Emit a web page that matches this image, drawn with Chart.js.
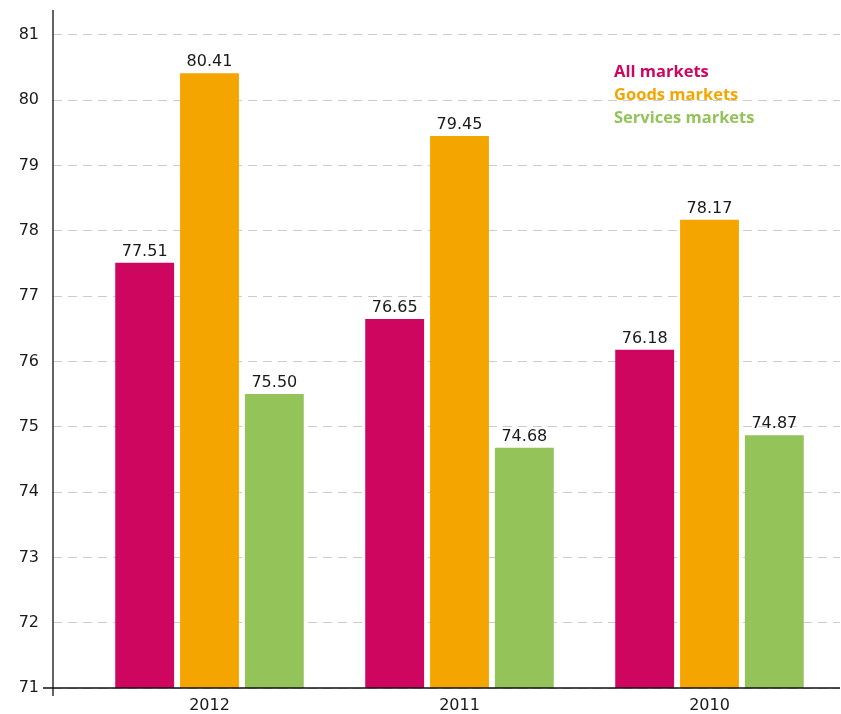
<!DOCTYPE html>
<html>
<head>
<meta charset="utf-8">
<script src="https://cdn.jsdelivr.net/npm/chart.js@4/dist/chart.umd.min.js"></script>
<style>
  html, body { margin: 0; padding: 0; background: #fff; }
  #wrap { width: 841px; height: 714px; }
</style>
</head>
<body>
<div id="wrap"><canvas id="myChart"></canvas></div>
<script>
// data
const years = ['2012', '2011', '2010'];
const allMarkets = [77.51, 76.65, 76.18];
const goodsMarkets = [80.41, 79.45, 78.17];
const servicesMarkets = [75.50, 74.68, 74.87];
const seriesNames = ['All markets', 'Goods markets', 'Services markets'];
const seriesColors = ['#ce0660', '#f5a500', '#93c359'];

function toPoints(values) {
    return values.map((v, i) => ({ x: i, y: v }));
}

// numbers above each bar
const valueLabels = {
    id: 'valueLabels',
    afterDatasetsDraw(chart) {
        const ctx = chart.ctx;
        ctx.save();
        ctx.font = '16px "DejaVu Sans"';
        ctx.fillStyle = '#1a1a1a';
        ctx.textAlign = 'center';
        ctx.textBaseline = 'alphabetic';
        chart.data.datasets.forEach((ds, di) => {
            chart.getDatasetMeta(di).data.forEach((bar, i) => {
                ctx.fillText(ds.data[i].y.toFixed(2), bar.x, bar.y - 7);
            });
        });
        ctx.restore();
    }
};

// axis lines running a bit past the corner, and the coloured text legend
const axesAndLegend = {
    id: 'axesAndLegend',
    afterDraw(chart) {
        const ctx = chart.ctx;
        const area = chart.chartArea;
        const y0 = chart.scales.y.getPixelForValue(71);
        ctx.save();
        ctx.strokeStyle = '#111';
        ctx.lineWidth = 1.3;
        ctx.beginPath();
        ctx.moveTo(area.left, area.top);
        ctx.lineTo(area.left, y0 + 8);
        ctx.moveTo(area.left - 10, y0);
        ctx.lineTo(area.right, y0);
        ctx.stroke();

        ctx.font = 'bold 16.5px "Open Sans"';
        ctx.textAlign = 'left';
        ctx.textBaseline = 'middle';
        seriesNames.forEach((name, i) => {
            ctx.fillStyle = seriesColors[i];
            ctx.fillText(name, 614, 72 + i * 23);
        });
        ctx.restore();
    }
};

const ctx = document.getElementById('myChart');

new Chart(ctx, {
    type: 'bar',
    data: {
        datasets: [
            { label: seriesNames[0], data: toPoints(allMarkets), backgroundColor: seriesColors[0] },
            { label: seriesNames[1], data: toPoints(goodsMarkets), backgroundColor: seriesColors[1] },
            { label: seriesNames[2], data: toPoints(servicesMarkets), backgroundColor: seriesColors[2] }
        ]
    },
    options: {
        responsive: true,
        maintainAspectRatio: false,
        animation: false,
        datasets: {
            bar: { categoryPercentage: 0.778, barPercentage: 0.908 }
        },
        layout: { padding: { top: 10, right: 1, left: 0, bottom: 0 } },
        plugins: {
            legend: { display: false },
            tooltip: { enabled: false }
        },
        scales: {
            x: {
                type: 'linear',
                offset: false,
                min: -0.626,
                max: 2.522,
                afterFit: s => {
                    s.height = 26;
                    s.paddingLeft = 0;
                    s.paddingRight = 0;
                },
                grid: { display: false, drawTicks: false, offset: false },
                border: { display: false },
                ticks: {
                    stepSize: 1,
                    includeBounds: false,
                    padding: 8,
                    color: '#1a1a1a',
                    font: { family: 'DejaVu Sans', size: 16 },
                    callback: v => (Number.isInteger(v) && years[v] !== undefined) ? years[v] : ''
                }
            },
            y: {
                min: 71,
                max: 81.38,
                afterFit: s => {
                    s.width = 53;
                    s.paddingTop = 0;
                    s.paddingBottom = 0;
                },
                grid: {
                    color: '#cccccc',
                    lineWidth: 1,
                    drawTicks: false
                },
                border: { display: false, dash: [9, 6] },
                ticks: {
                    stepSize: 1,
                    includeBounds: false,
                    padding: 14,
                    color: '#1a1a1a',
                    font: { family: 'DejaVu Sans', size: 16 }
                }
            }
        }
    },
    plugins: [valueLabels, axesAndLegend]
});
</script>
</body>
</html>
